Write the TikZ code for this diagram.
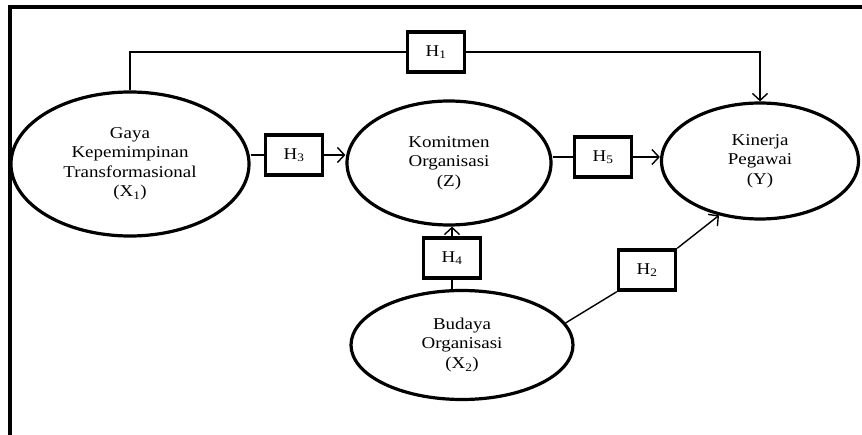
\documentclass[tikz,border=0pt]{standalone}
\usepackage{fontspec}
\setmainfont{Liberation Serif}[FakeStretch=1.15]
\usetikzlibrary{arrows.meta,shapes.geometric}
\begin{document}
\begin{tikzpicture}[x=1pt,y=-1pt,
  var/.style={ellipse,draw,line width=3.2pt,inner sep=0pt,align=center,
    font=\fontsize{16.5}{19.5}\selectfont},
  hyp/.style={rectangle,draw,line width=3.5pt,inner sep=0pt,minimum width=57pt,minimum height=40pt,
    font=\fontsize{16.5}{19.5}\selectfont},
  conn/.style={line width=1.4pt},
  arr/.style={conn,-{Straight Barb[length=7pt,width=15pt,line width=1.4pt]}}]
\useasboundingbox (0,0) rectangle (862,435);
\draw[line width=4pt] (10,435) -- (10,7) -- (862,7);
% variables
\node[var,minimum width=238pt,minimum height=144pt] (X1) at (130,164)
  {Gaya\\Kepemimpinan\\Transformasional\\(X\textsubscript{1})};
\node[var,minimum width=204pt,minimum height=124pt] (Z) at (449,163)
  {Komitmen\\Organisasi\\(Z)};
\node[var,minimum width=197pt,minimum height=116pt] (Y) at (760,161)
  {Kinerja\\Pegawai\\(Y)};
\node[var,minimum width=222pt,minimum height=109pt] (X2) at (462,345)
  {Budaya\\Organisasi\\(X\textsubscript{2})};
% hypotheses
\node[hyp] (H1) at (436,52) {H\textsubscript{1}};
\node[hyp] (H3) at (294,155) {H\textsubscript{3}};
\node[hyp] (H5) at (603,157) {H\textsubscript{5}};
\node[hyp] (H4) at (452,258) {H\textsubscript{4}};
\node[hyp] (H2) at (647,270) {H\textsubscript{2}};
% connectors
\draw[conn] (X1.north) |- (H1.west);
\draw[arr] (H1.east) -| (Y.north);
\draw[conn] (X1.east |- H3.west) -- (H3.west);
\draw[arr] (H3.east) -- (Z.west |- H3.east);
\draw[conn] (Z.east |- H5.west) -- (H5.west);
\draw[arr] (H5.east) -- (Y.west |- H5.east);
\draw[conn] (H4.south |- X2.north) -- (H4.south);
\draw[arr] (H4.north) -- (H4.north |- Z.south);
\draw[conn] (X2.12) -- (H2.south west);
\draw[arr] (H2.north east) -- (Y.233);
\end{tikzpicture}
\end{document}
